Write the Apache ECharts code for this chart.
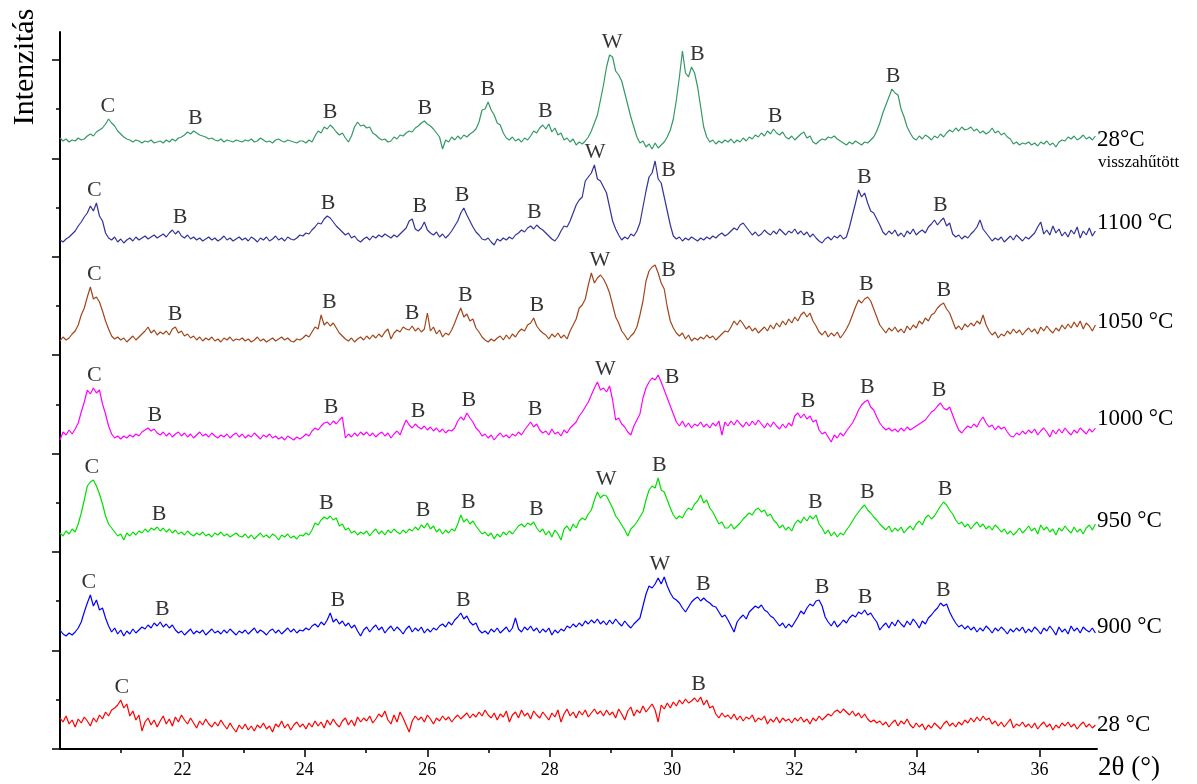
<!DOCTYPE html>
<html>
<head>
<meta charset="utf-8">
<script src="https://cdn.jsdelivr.net/npm/echarts@6/dist/echarts.min.js"></script>
<style>
  html, body { margin: 0; padding: 0; background: #ffffff; }
  #chart { width: 1197px; height: 784px; }
</style>
</head>
<body>
<div id="chart"></div>
<script>
// XRD scans: first 2θ angle and step between samples (degrees)
const scanStart = 20;
const scanStep = 0.0496;

// Intensities above each pattern's own background, one row per degree
const cooled28 = [
  7,4,6,3,5,4,7,5,6,9,11,9,13,15,17,21,26,22,19,14,
  11,8,6,5,3,5,4,2,4,3,5,2,3,4,2,5,3,6,4,7,
  8,10,13,11,14,12,10,9,8,6,7,5,4,6,3,5,4,3,5,4,
  3,5,4,6,3,4,7,5,3,4,2,5,6,4,3,5,4,3,2,4,
  4,2,5,3,9,14,12,18,16,20,17,13,10,12,7,3,9,18,23,19,
  20,17,18,12,10,7,5,6,3,4,8,6,10,9,12,14,13,17,19,22,
  24,21,19,16,12,8,-4,5,3,8,5,9,6,10,8,11,13,16,23,35,
  36,43,35,30,22,20,12,7,5,8,4,6,3,7,5,9,14,12,17,20,
  16,21,13,17,10,12,5,7,3,6,0,3,1,4,8,14,22,30,45,60,
  78,90,88,74,70,64,52,40,28,18,8,2,4,-2,1,-4,2,-3,0,3,
  8,15,26,45,68,94,72,68,78,72,58,38,18,8,3,5,1,4,2,5,
  3,6,2,5,3,7,4,8,6,10,8,12,9,14,11,16,12,10,13,8,
  6,9,5,8,11,13,7,9,3,1,4,6,5,8,7,9,6,4,2,0,
  3,1,4,2,0,3,2,5,8,14,22,32,40,48,56,52,50,36,28,18,
  12,7,5,9,6,10,8,5,9,7,11,8,12,15,13,17,14,18,15,16,
  18,14,16,12,14,11,13,17,12,14,10,12,8,6,1,3,0,2,1,3,
  0,2,-1,3,1,4,0,2,-2,3,5,4,8,6,9,5,7,10,6,8,
  5,9
];
const t1100 = [
  3,1,4,6,9,12,17,21,26,30,37,32,40,27,22,10,5,3,6,1,
  4,0,3,5,2,6,3,5,7,4,6,8,5,7,9,6,10,13,9,12,
  7,5,8,4,6,3,5,2,4,6,3,5,2,4,7,3,5,2,4,6,
  3,5,2,6,4,1,5,3,6,2,4,7,3,5,2,6,4,3,5,8,
  7,10,9,13,16,20,19,24,27,25,21,17,14,11,8,10,5,7,3,1,
  4,6,3,7,5,8,6,9,7,5,8,6,9,12,15,22,24,14,12,15,
  21,13,10,8,11,6,9,5,8,12,17,22,30,35,28,22,16,11,8,4,
  3,5,1,-2,4,2,5,3,6,4,8,10,13,11,15,17,14,18,15,13,
  10,7,4,2,6,12,17,16,22,30,38,43,46,62,66,70,78,64,62,56,
  50,36,22,14,8,3,6,4,9,7,12,20,36,52,66,70,82,64,60,46,
  32,18,7,4,6,2,5,3,6,4,2,5,3,6,4,7,5,8,10,7,
  9,12,15,13,18,20,16,12,8,11,7,9,13,10,8,12,9,14,11,8,
  12,10,14,9,12,8,11,6,9,5,2,0,4,6,3,7,5,8,4,6,
  16,28,40,53,46,50,40,32,30,24,18,11,8,12,9,13,7,10,6,12,
  9,14,8,11,13,10,16,19,23,18,22,25,17,20,9,6,8,4,7,5,
  9,12,16,23,14,10,6,2,5,3,6,1,4,7,3,8,5,2,6,4,
  7,10,16,21,9,13,8,17,10,14,7,11,6,13,9,16,5,12,8,15,
  7,12
];
const t1050 = [
  2,6,3,5,9,12,18,28,35,46,56,44,46,41,32,22,14,7,4,6,
  3,5,1,4,7,3,6,9,12,16,10,13,8,11,9,12,8,14,16,10,
  12,7,9,5,7,3,6,2,5,3,6,2,4,1,5,3,6,2,4,3,
  5,2,4,1,3,6,2,4,1,3,5,2,4,6,3,5,2,1,4,3,
  5,8,6,11,16,14,28,18,21,17,20,15,10,7,4,2,5,1,4,6,
  3,7,4,8,5,9,6,11,14,4,10,13,11,16,14,13,17,12,15,11,
  14,30,12,16,9,13,6,10,8,13,20,28,35,26,29,22,24,15,11,6,
  3,1,4,2,5,7,3,8,4,9,6,11,14,12,18,20,25,17,13,10,
  8,4,9,6,10,5,8,4,12,18,24,35,38,44,58,70,60,65,68,64,
  58,50,38,26,20,12,8,3,7,10,16,28,42,62,72,76,78,70,60,54,
  36,22,15,10,7,10,4,8,2,5,3,6,4,8,5,7,3,6,9,12,
  11,16,22,18,23,19,14,17,12,15,10,13,16,12,18,14,20,16,22,18,
  24,20,26,22,28,31,26,30,22,17,11,8,12,6,10,7,11,5,9,14,
  20,28,36,43,40,44,46,42,34,26,18,14,10,15,12,16,11,14,10,17,
  13,18,15,22,19,25,22,28,30,35,38,40,34,30,22,14,17,13,19,16,
  20,17,22,19,28,18,12,8,11,5,9,7,12,9,14,10,13,8,12,15,
  11,14,9,16,12,17,13,10,15,12,18,14,19,15,21,16,22,14,20,17,
  12,18
];
const t1000 = [
  0,8,5,10,6,11,17,28,38,50,46,52,47,50,36,26,14,6,2,4,
  1,4,2,5,3,6,4,8,10,12,9,11,7,5,8,4,7,3,6,8,
  4,7,3,6,2,5,8,4,6,3,7,4,2,5,3,6,2,5,7,3,
  6,2,5,3,7,4,1,5,3,6,2,4,1,3,0,4,2,0,3,1,
  3,6,4,9,12,10,14,17,18,15,19,16,20,23,2,6,3,7,4,8,
  5,8,4,7,3,6,8,4,7,2,6,9,5,13,20,15,12,16,13,11,
  14,10,13,9,12,8,11,7,10,9,12,19,23,20,27,22,18,12,9,4,
  6,2,5,0,4,7,3,5,2,6,4,8,5,10,14,18,13,16,10,7,
  9,5,11,6,8,4,10,7,12,15,18,24,28,33,38,45,52,58,50,52,
  48,54,40,20,22,16,13,8,5,14,20,26,42,52,58,62,60,65,58,50,
  42,34,26,18,14,19,13,17,12,16,14,18,13,16,12,17,14,19,5,18,
  14,19,15,20,16,13,18,14,19,15,20,16,12,17,13,18,14,11,16,12,
  17,14,24,27,22,26,21,24,18,20,10,6,8,3,-2,5,2,7,4,9,
  13,17,23,30,35,38,40,33,30,23,17,13,10,12,9,11,8,12,9,13,
  10,12,14,16,18,20,24,28,30,34,37,32,30,33,25,17,10,7,11,14,
  12,16,13,19,23,17,13,15,10,14,11,13,8,4,3,7,5,9,6,10,
  7,11,5,9,12,8,3,10,6,11,7,12,8,5,10,7,12,9,6,11,
  8,12
];
const t950 = [
  5,2,7,4,9,6,14,25,38,52,56,58,52,44,34,22,14,10,6,2,
  4,-2,5,2,6,3,7,5,9,6,10,8,11,7,10,6,9,5,8,4,
  6,3,7,4,2,5,3,6,2,4,1,5,3,6,2,4,1,3,5,2,
  1,4,0,3,-1,2,5,1,3,0,4,2,-2,3,1,4,0,2,-1,3,
  2,5,3,8,15,13,18,21,19,22,18,20,12,14,8,10,5,7,3,6,
  4,7,2,6,9,4,7,3,8,5,9,6,4,8,5,9,7,11,8,13,
  10,15,9,12,6,9,4,8,5,9,7,14,23,16,19,14,17,12,8,4,
  6,2,5,-1,4,1,6,3,7,4,8,12,14,11,15,13,16,10,6,9,
  3,7,1,8,4,-2,9,12,7,14,10,17,20,18,24,28,38,46,40,43,
  42,36,30,22,18,13,8,2,9,12,16,21,26,38,48,52,50,60,48,46,
  38,30,23,19,22,20,26,30,28,34,37,43,35,38,30,26,20,14,16,10,
  10,14,9,12,15,19,22,25,23,28,30,26,28,22,24,18,15,10,13,8,
  11,7,14,18,15,21,17,22,19,23,14,10,4,8,2,6,1,5,3,8,
  12,17,22,26,30,33,28,25,21,18,14,11,8,12,6,10,7,11,5,9,
  12,8,14,17,13,20,23,19,22,27,32,36,33,28,24,18,14,16,11,14,
  9,13,16,11,14,9,12,8,13,10,6,9,4,7,3,6,10,5,8,12,
  7,10,4,13,8,11,6,9,3,10,7,12,8,5,11,6,9,4,10,13,
  8,14
];
const t900 = [
  6,2,0,3,1,4,8,14,24,33,41,30,36,26,28,18,10,4,8,2,
  6,0,5,2,7,3,6,9,7,11,8,13,10,14,9,12,8,11,6,3,
  5,1,4,7,2,5,3,6,1,4,7,3,5,2,6,3,7,4,1,5,
  3,6,2,5,8,3,6,4,1,5,7,3,6,2,5,8,4,7,3,6,
  5,8,6,10,12,9,14,11,16,23,14,17,12,15,10,13,8,11,5,0,
  6,9,4,8,11,6,9,3,7,10,5,9,6,2,7,10,4,8,5,9,
  3,7,4,8,6,10,12,9,14,11,16,19,23,17,20,14,11,13,6,3,
  5,2,7,4,8,3,6,9,4,8,18,7,4,9,6,10,5,8,3,7,
  4,8,1,6,3,7,5,10,8,12,9,13,10,15,12,16,13,17,12,15,
  11,16,12,17,13,10,15,11,8,12,15,18,30,42,50,48,52,58,52,59,
  50,43,38,36,33,28,24,29,34,37,39,35,38,35,33,30,29,24,19,21,
  16,10,4,14,18,21,17,24,27,30,28,31,26,24,20,18,14,10,13,8,
  12,9,14,19,25,22,28,32,30,35,36,30,19,14,10,15,9,12,16,13,
  18,21,19,24,22,26,21,23,18,14,6,10,13,8,14,10,16,12,9,15,
  11,17,13,8,15,12,18,21,25,28,33,30,32,24,18,13,9,11,7,10,
  6,9,4,8,5,10,7,3,8,5,9,6,2,7,4,8,5,9,3,7,
  4,9,6,2,8,5,10,6,1,9,4,7,2,10,5,8,3,9,6,4,
  8,3
];
const t28 = [
  12,8,14,6,10,3,11,7,13,9,4,12,8,15,11,18,14,20,22,25,
  30,22,26,14,19,10,15,-1,8,12,5,10,3,9,14,6,11,4,13,8,
  15,10,6,12,7,2,9,5,11,6,3,8,4,10,5,1,7,2,-2,5,
  1,6,0,4,-1,5,2,7,1,4,-2,6,3,9,2,6,0,5,8,3,
  6,1,7,3,9,4,8,2,10,5,11,6,3,9,12,5,10,4,13,8,
  12,9,14,7,11,16,13,19,10,6,15,8,18,12,5,-2,9,14,10,13,
  8,15,11,6,12,9,14,10,13,8,12,15,11,14,17,12,16,13,18,14,
  20,15,12,17,10,16,13,19,8,15,18,12,20,14,17,11,19,15,12,18,
  14,10,17,13,20,8,16,21,14,18,12,19,15,20,13,17,21,16,19,14,
  20,15,18,12,21,16,10,19,23,14,20,17,24,18,22,26,20,8,25,21,
  27,22,28,24,30,26,31,27,29,32,28,33,25,30,22,24,16,12,17,13,
  15,11,16,10,14,9,13,11,15,8,12,10,14,6,11,8,13,7,12,9,
  11,7,12,9,13,8,11,6,12,9,14,10,13,16,14,18,20,17,21,18,
  15,19,14,17,12,16,11,8,10,7,9,5,8,3,7,10,4,9,6,11,
  5,2,7,3,6,0,5,2,7,4,1,6,9,4,7,3,8,5,10,7,
  12,8,13,9,14,10,12,6,9,4,8,3,7,11,2,6,4,8,3,6,
  2,7,1,5,8,3,6,0,5,2,7,4,8,3,6,1,5,8,3,6,
  2,5
];

// Sample names, top to bottom
const sampleNames = ['28°C', '1100 °C', '1050 °C', '1000 °C', '950 °C', '900 °C', '28 °C'];

// Phase reflections: [pattern index, 2θ, phase letter]
const phaseMarks = [
  [0, 20.78, 'C'], [0, 22.21, 'B'], [0, 24.41, 'B'], [0, 25.96, 'B'], [0, 26.99, 'B'],
  [0, 27.93, 'B'], [0, 29.02, 'W'], [0, 30.41, 'B'], [0, 31.68, 'B'], [0, 33.61, 'B'],
  [1, 20.56, 'C'], [1, 21.96, 'B'], [1, 24.38, 'B'], [1, 25.88, 'B'], [1, 26.57, 'B'],
  [1, 27.75, 'B'], [1, 28.74, 'W'], [1, 29.94, 'B'], [1, 33.14, 'B'], [1, 34.38, 'B'],
  [2, 20.56, 'C'], [2, 21.88, 'B'], [2, 24.40, 'B'], [2, 25.75, 'B'], [2, 26.62, 'B'],
  [2, 27.79, 'B'], [2, 28.82, 'W'], [2, 29.94, 'B'], [2, 32.22, 'B'], [2, 33.17, 'B'], [2, 34.44, 'B'],
  [3, 20.56, 'C'], [3, 21.55, 'B'], [3, 24.43, 'B'], [3, 25.85, 'B'], [3, 26.68, 'B'],
  [3, 27.76, 'B'], [3, 28.91, 'W'], [3, 30.00, 'B'], [3, 32.22, 'B'], [3, 33.19, 'B'], [3, 34.36, 'B'],
  [4, 20.52, 'C'], [4, 21.62, 'B'], [4, 24.35, 'B'], [4, 25.93, 'B'], [4, 26.67, 'B'],
  [4, 27.78, 'B'], [4, 28.92, 'W'], [4, 29.79, 'B'], [4, 32.34, 'B'], [4, 33.19, 'B'], [4, 34.46, 'B'],
  [5, 20.47, 'C'], [5, 21.67, 'B'], [5, 24.54, 'B'], [5, 26.59, 'B'], [5, 29.80, 'W'],
  [5, 30.51, 'B'], [5, 32.45, 'B'], [5, 33.15, 'B'], [5, 34.43, 'B'],
  [6, 21.01, 'C'], [6, 30.43, 'B']
];

// 2θ tick values
const xMajorTicks = [22, 24, 26, 28, 30, 32, 34, 36];
const xMinorTicks = [21, 23, 25, 27, 29, 31, 33, 35];
// Intensity tick values (unlabelled)
const yMajorTicks = [0, 98, 197, 295, 394, 492, 590, 689];
const yMinorTicks = [49, 148, 246, 344, 443, 541, 640];

const patterns = [cooled28, t1100, t1050, t1000, t950, t900, t28];
const patternColors = ['#339966', '#333399', '#a0461a', '#ff00ff', '#00e000', '#0000ff', '#ff0000'];
// vertical shift applied to each pattern so they stack
const patternShift = [604, 506, 406, 309, 211, 113, 19];

const serif = "'Liberation Serif', 'Times New Roman', serif";

const lineSeries = patterns.map((vals, k) => ({
  type: 'line',
  name: sampleNames[k],
  xAxisIndex: 0,
  yAxisIndex: 0,
  showSymbol: false,
  silent: true,
  clip: true,
  lineStyle: { color: patternColors[k], width: 1.2 },
  itemStyle: { color: patternColors[k] },
  data: vals.map((v, i) => [scanStart + i * scanStep, patternShift[k] + v])
}));

// each letter sits just above the highest point of its pattern near the reflection
const markPoints = phaseMarks.map(([k, angle, letter]) => {
  const vals = patterns[k];
  let top = -Infinity;
  vals.forEach((v, i) => {
    const a = scanStart + i * scanStep;
    if (Math.abs(a - angle) <= 0.15 && v > top) top = v;
  });
  return { name: letter, value: [angle, patternShift[k] + top] };
});

const chart = echarts.init(document.getElementById('chart'), null, { renderer: 'canvas' });

const axisBlack = { color: '#000000', width: 2 };

chart.setOption({
  animation: false,
  backgroundColor: '#ffffff',
  grid: { left: 60, right: 100, top: 32, bottom: 35, containLabel: false },
  xAxis: [
    {
      type: 'value', min: 20, max: 36.94, position: 'bottom',
      axisLine: { show: true, onZero: false, lineStyle: axisBlack },
      axisTick: { show: true, inside: false, length: 8, customValues: xMajorTicks, lineStyle: { color: '#000', width: 1.5 } },
      axisLabel: { show: true, customValues: xMajorTicks, margin: 12, color: '#000', fontFamily: serif, fontSize: 18 },
      splitLine: { show: false }
    },
    {
      type: 'value', min: 20, max: 36.94, position: 'bottom',
      axisLine: { show: false, onZero: false },
      axisTick: { show: true, inside: false, length: 4, customValues: xMinorTicks, lineStyle: { color: '#000', width: 1.5 } },
      axisLabel: { show: false },
      splitLine: { show: false }
    }
  ],
  yAxis: [
    {
      type: 'value', min: 0, max: 717, position: 'left',
      axisLine: { show: true, onZero: false, lineStyle: axisBlack },
      axisTick: { show: true, inside: false, length: 8, customValues: yMajorTicks, lineStyle: { color: '#000', width: 1.5 } },
      axisLabel: { show: false },
      splitLine: { show: false }
    },
    {
      type: 'value', min: 0, max: 717, position: 'left',
      axisLine: { show: false, onZero: false },
      axisTick: { show: true, inside: false, length: 4, customValues: yMinorTicks, lineStyle: { color: '#000', width: 1.5 } },
      axisLabel: { show: false },
      splitLine: { show: false }
    }
  ],
  series: lineSeries.concat([{
    type: 'scatter',
    xAxisIndex: 0,
    yAxisIndex: 0,
    silent: true,
    symbol: 'circle',
    symbolSize: 1,
    itemStyle: { color: 'rgba(0,0,0,0)' },
    label: {
      show: true, position: 'top', distance: 1, formatter: '{b}',
      color: '#000', fontFamily: serif, fontSize: 22
    },
    data: markPoints,
    z: 5
  }]),
  graphic: [
    { type: 'text', x: 25, y: 67, rotation: Math.PI / 2,
      style: { text: 'Intenzitás', font: "30px 'Liberation Serif', serif", fill: '#000', align: 'center', verticalAlign: 'middle' } },
    { type: 'text', x: 1098, y: 768,
      style: { text: '2θ (°)', font: "27px 'Liberation Serif', serif", fill: '#000', align: 'left', verticalAlign: 'middle' } },
    { type: 'text', x: 1097, y: 140,
      style: { text: sampleNames[0], font: "23px 'Liberation Serif', serif", fill: '#000', align: 'left', verticalAlign: 'middle' } },
    { type: 'text', x: 1098, y: 163,
      style: { text: 'visszahűtött', font: "17px 'Liberation Serif', serif", fill: '#000', align: 'left', verticalAlign: 'middle' } },
    { type: 'text', x: 1097, y: 223,
      style: { text: sampleNames[1], font: "23px 'Liberation Serif', serif", fill: '#000', align: 'left', verticalAlign: 'middle' } },
    { type: 'text', x: 1097, y: 322,
      style: { text: sampleNames[2], font: "23px 'Liberation Serif', serif", fill: '#000', align: 'left', verticalAlign: 'middle' } },
    { type: 'text', x: 1097, y: 419,
      style: { text: sampleNames[3], font: "23px 'Liberation Serif', serif", fill: '#000', align: 'left', verticalAlign: 'middle' } },
    { type: 'text', x: 1097, y: 521,
      style: { text: sampleNames[4], font: "23px 'Liberation Serif', serif", fill: '#000', align: 'left', verticalAlign: 'middle' } },
    { type: 'text', x: 1097, y: 627,
      style: { text: sampleNames[5], font: "23px 'Liberation Serif', serif", fill: '#000', align: 'left', verticalAlign: 'middle' } },
    { type: 'text', x: 1097, y: 725,
      style: { text: sampleNames[6], font: "23px 'Liberation Serif', serif", fill: '#000', align: 'left', verticalAlign: 'middle' } }
  ]
});
</script>
</body>
</html>
